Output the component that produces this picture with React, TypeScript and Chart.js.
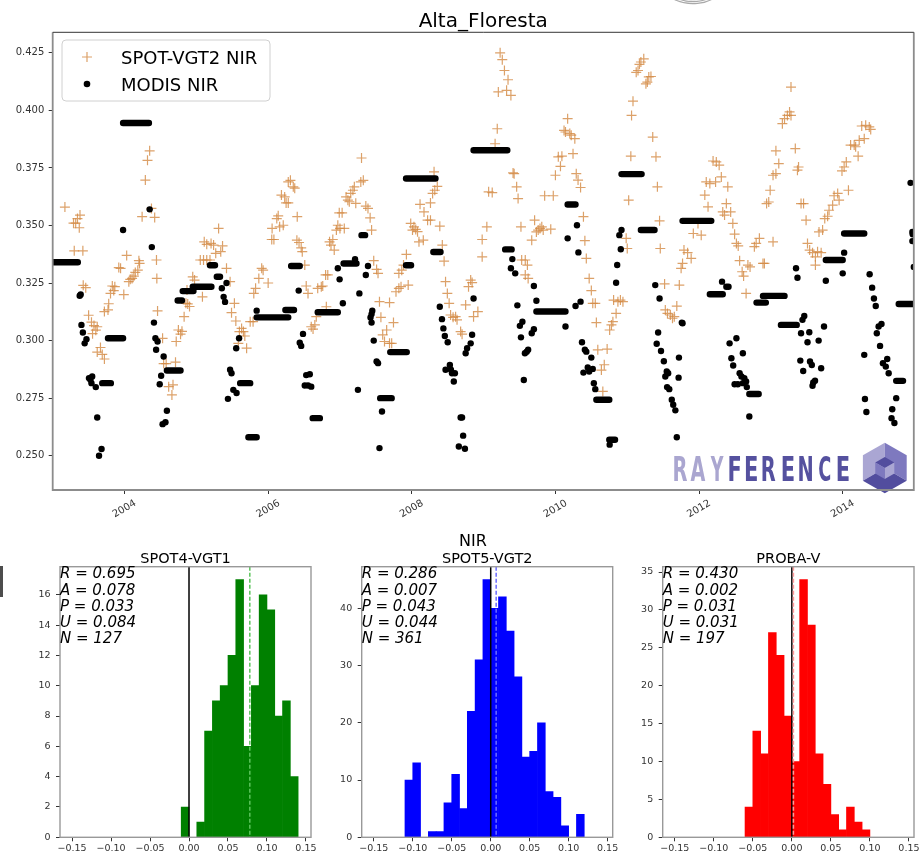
import React, { useEffect, useRef } from "react";
import { Chart, registerables } from "chart.js";

Chart.register(...registerables);

const FONT = '"DejaVu Sans", "Liberation Sans", sans-serif';
const LOGO_FONT = '"DejaVu Sans Condensed", "Liberation Sans Narrow", "DejaVu Sans", sans-serif';

// ---------------- time series: Alta_Floresta NIR ----------------
const YEAR_MIN = 2003.0;
const YEAR_MAX = 2014.99;
const NIR_MIN = 0.2351;
const NIR_MAX = 0.4339;
const YEAR_TICKS = [2004, 2006, 2008, 2010, 2012, 2014];
const NIR_TICKS = [0.25, 0.275, 0.3, 0.325, 0.35, 0.375, 0.4, 0.425];

// [decimal year, reflectance]
const SPOT_VGT2_NIR: [number, number][] = [
  [2003.17, 0.358], [2003.29, 0.351], [2003.32, 0.351], [2003.345, 0.353], [2003.38, 0.3545], [2003.37, 0.349],
  [2003.3, 0.339], [2003.42, 0.339], [2003.425, 0.324], [2003.46, 0.323], [2003.5, 0.311], [2003.54, 0.308],
  [2003.575, 0.3065], [2003.62, 0.306], [2003.555, 0.303], [2003.6, 0.3045], [2003.62, 0.295], [2003.665, 0.297],
  [2003.69, 0.294], [2003.72, 0.292], [2003.72, 0.3126], [2003.77, 0.3133], [2003.78, 0.316], [2003.805, 0.3205],
  [2003.83, 0.3237], [2003.865, 0.3234], [2003.85, 0.3217], [2003.92, 0.3317], [2003.945, 0.3314], [2003.99, 0.32],
  [2004.03, 0.337], [2004.06, 0.3256], [2004.08, 0.3266], [2004.105, 0.327], [2004.13, 0.328], [2004.15, 0.3296],
  [2004.185, 0.3306], [2004.21, 0.3335], [2004.2, 0.3347], [2004.245, 0.3538], [2004.42, 0.3535], [2004.29, 0.3697],
  [2004.32, 0.3783], [2004.35, 0.3824], [2004.375, 0.3574], [2004.445, 0.335], [2004.45, 0.327], [2004.46, 0.3129],
  [2004.53, 0.301], [2004.58, 0.29], [2004.545, 0.29], [2004.71, 0.2906], [2004.615, 0.28], [2004.66, 0.2764],
  [2004.675, 0.2808], [2004.72, 0.2996], [2004.75, 0.3046], [2004.78, 0.3028], [2004.8, 0.304], [2004.83, 0.3104],
  [2004.855, 0.3162], [2004.88, 0.3159], [2004.905, 0.3148], [2004.87, 0.322], [2004.95, 0.3277], [2004.975, 0.3263],
  [2005.085, 0.319], [2005.055, 0.335], [2005.1, 0.335], [2005.145, 0.335], [2005.19, 0.335], [2005.11, 0.3429],
  [2005.145, 0.3418], [2005.205, 0.3422], [2005.24, 0.3415], [2005.31, 0.3487], [2005.27, 0.3379], [2005.34, 0.3386],
  [2005.365, 0.3411], [2005.42, 0.3314], [2005.47, 0.3256], [2005.49, 0.3121], [2005.53, 0.3162], [2005.55, 0.3085],
  [2005.6, 0.3039], [2005.63, 0.3053], [2005.585, 0.2988], [2005.655, 0.3039], [2005.7, 0.2967], [2005.675, 0.302],
  [2005.75, 0.3082], [2005.79, 0.3082], [2005.8, 0.3205], [2005.825, 0.3227], [2005.87, 0.327], [2005.91, 0.3314],
  [2005.93, 0.3306], [2006.0, 0.325], [2006.05, 0.3439], [2006.08, 0.3439], [2006.055, 0.3487], [2006.16, 0.3494],
  [2006.21, 0.3501], [2006.14, 0.3542], [2006.12, 0.353], [2006.185, 0.3632], [2006.23, 0.3624], [2006.25, 0.3598],
  [2006.28, 0.3598], [2006.28, 0.3689], [2006.31, 0.3696], [2006.35, 0.3668], [2006.37, 0.3662], [2006.405, 0.3538],
  [2006.4, 0.3436], [2006.43, 0.3426], [2006.46, 0.3403], [2006.475, 0.3386], [2006.51, 0.3328], [2006.53, 0.3237],
  [2006.555, 0.3205], [2006.6, 0.306], [2006.65, 0.3068], [2006.625, 0.305], [2006.67, 0.3104], [2006.69, 0.3227],
  [2006.74, 0.3234], [2006.76, 0.3237], [2006.8, 0.3285], [2006.83, 0.3285], [2006.81, 0.3147], [2006.855, 0.3429],
  [2006.9, 0.3439], [2006.92, 0.3393], [2006.875, 0.3415], [2006.95, 0.348], [2006.97, 0.3501], [2007.0, 0.3487],
  [2006.99, 0.3555], [2007.03, 0.3555], [2007.085, 0.3624], [2007.11, 0.361], [2007.15, 0.3639], [2007.18, 0.3653],
  [2007.2, 0.3668], [2007.13, 0.3603], [2007.22, 0.3596], [2007.06, 0.3487], [2007.3, 0.3793], [2007.29, 0.3689],
  [2007.325, 0.3696], [2007.36, 0.3584], [2007.39, 0.3574], [2007.42, 0.3533], [2007.44, 0.348], [2007.47, 0.3347],
  [2007.51, 0.3309], [2007.53, 0.3292], [2007.55, 0.3169], [2007.69, 0.3165], [2007.57, 0.3101], [2007.595, 0.3025],
  [2007.65, 0.3046], [2007.62, 0.2996], [2007.69, 0.2988], [2007.72, 0.2988], [2007.745, 0.3078], [2007.78, 0.3212],
  [2007.82, 0.3227], [2007.85, 0.3234], [2007.82, 0.3292], [2007.86, 0.3306], [2007.885, 0.3328], [2007.925, 0.3374],
  [2007.95, 0.3241], [2007.985, 0.3509], [2008.03, 0.3494], [2008.055, 0.3483], [2008.08, 0.3473], [2008.01, 0.348],
  [2008.1, 0.3429], [2008.16, 0.3436], [2008.115, 0.3592], [2008.17, 0.3559], [2008.22, 0.3523], [2008.26, 0.3523],
  [2008.26, 0.3598], [2008.29, 0.3639], [2008.32, 0.3653], [2008.355, 0.367], [2008.31, 0.3733], [2008.39, 0.3497],
  [2008.425, 0.3415], [2008.45, 0.3345], [2008.47, 0.3256], [2008.495, 0.3205], [2008.52, 0.3162], [2008.54, 0.3111],
  [2008.575, 0.3101], [2008.61, 0.3104], [2008.63, 0.309], [2008.68, 0.3039], [2008.7, 0.3028], [2008.75, 0.3155],
  [2008.79, 0.3234], [2008.82, 0.3263], [2008.84, 0.3252], [2008.86, 0.3104], [2008.92, 0.3126], [2008.98, 0.3439],
  [2008.98, 0.3364], [2009.045, 0.3494], [2009.07, 0.3646], [2009.12, 0.3643], [2009.16, 0.3855], [2009.19, 0.392],
  [2009.205, 0.408], [2009.23, 0.425], [2009.26, 0.422], [2009.29, 0.4173], [2009.34, 0.4133], [2009.38, 0.4065],
  [2009.32, 0.4087], [2009.41, 0.3728], [2009.425, 0.3725], [2009.46, 0.3668], [2009.48, 0.3617], [2009.52, 0.3494],
  [2009.53, 0.335], [2009.58, 0.335], [2009.61, 0.3328], [2009.62, 0.327], [2009.58, 0.3285], [2009.67, 0.3436],
  [2009.71, 0.3523], [2009.76, 0.348], [2009.81, 0.3494], [2009.735, 0.3472], [2009.785, 0.3487], [2009.83, 0.348],
  [2009.935, 0.3484], [2009.85, 0.3629], [2009.97, 0.3629], [2010.0, 0.3718], [2010.04, 0.3798], [2010.07, 0.3757],
  [2010.09, 0.3801], [2010.14, 0.3906], [2010.17, 0.3964], [2010.2, 0.3899], [2010.22, 0.3892], [2010.27, 0.3877],
  [2010.12, 0.3913], [2010.245, 0.3812], [2010.29, 0.3725], [2010.315, 0.3697], [2010.35, 0.3665], [2010.39, 0.3538],
  [2010.41, 0.3434], [2010.43, 0.3357], [2010.47, 0.327], [2010.5, 0.3217], [2010.52, 0.3162], [2010.555, 0.3162],
  [2010.57, 0.3078], [2010.59, 0.296], [2010.72, 0.2963], [2010.64, 0.2872], [2010.68, 0.2895], [2010.66, 0.2779],
  [2010.755, 0.3046], [2010.78, 0.3068], [2010.8, 0.3082], [2010.81, 0.3176], [2010.845, 0.3118], [2010.87, 0.3169],
  [2010.905, 0.3176], [2010.94, 0.3169], [2010.985, 0.3444], [2011.0, 0.34], [2011.02, 0.361], [2011.05, 0.3801],
  [2011.06, 0.3978], [2011.08, 0.404], [2011.125, 0.4165], [2011.15, 0.4173], [2011.19, 0.421], [2011.23, 0.4224],
  [2011.17, 0.42], [2011.28, 0.4123], [2011.3, 0.4145], [2011.33, 0.4147], [2011.26, 0.4115], [2011.355, 0.3884],
  [2011.4, 0.3798], [2011.42, 0.3668], [2011.45, 0.352], [2011.46, 0.34], [2011.52, 0.3246], [2011.53, 0.3133],
  [2011.56, 0.3118], [2011.6, 0.3111], [2011.655, 0.3104], [2011.63, 0.3097], [2011.69, 0.315], [2011.725, 0.3241],
  [2011.75, 0.3314], [2011.77, 0.3335], [2011.79, 0.3393], [2011.84, 0.3382], [2011.89, 0.3357], [2011.92, 0.3465],
  [2011.985, 0.3509], [2012.03, 0.3458], [2012.08, 0.3632], [2012.1, 0.3689], [2012.15, 0.3682], [2012.125, 0.3581],
  [2012.195, 0.378], [2012.24, 0.3776], [2012.28, 0.3762], [2012.23, 0.3689], [2012.31, 0.3711], [2012.33, 0.3559],
  [2012.38, 0.3595], [2012.355, 0.3545], [2012.4, 0.3668], [2012.44, 0.3559], [2012.47, 0.3509], [2012.495, 0.3462],
  [2012.52, 0.3422], [2012.545, 0.3411], [2012.565, 0.3347], [2012.6, 0.3299], [2012.62, 0.328], [2012.655, 0.3205],
  [2012.68, 0.3328], [2012.71, 0.332], [2012.77, 0.3408], [2012.795, 0.3422], [2012.84, 0.3444], [2012.89, 0.3335],
  [2012.91, 0.3335], [2013.03, 0.3429], [2012.94, 0.3595], [2012.97, 0.3602], [2012.99, 0.3653], [2013.03, 0.3718],
  [2013.07, 0.3725], [2013.11, 0.3769], [2013.07, 0.3824], [2013.16, 0.3942], [2013.19, 0.3964], [2013.23, 0.3978],
  [2013.26, 0.3993], [2013.28, 0.3978], [2013.28, 0.4101], [2013.34, 0.3834], [2013.385, 0.3754], [2013.37, 0.374],
  [2013.42, 0.3595], [2013.455, 0.3595], [2013.49, 0.3523], [2013.51, 0.3422], [2013.54, 0.3393], [2013.58, 0.3382],
  [2013.62, 0.3364], [2013.65, 0.3386], [2013.7, 0.3382], [2013.62, 0.3328], [2013.67, 0.3472], [2013.72, 0.348],
  [2013.75, 0.353], [2013.79, 0.354], [2013.81, 0.3566], [2013.86, 0.3588], [2013.88, 0.3629], [2013.93, 0.3639],
  [2013.95, 0.361], [2013.99, 0.3737], [2014.02, 0.3754], [2014.05, 0.3776], [2014.08, 0.3653], [2014.11, 0.3849],
  [2014.16, 0.3849], [2014.18, 0.3842], [2014.215, 0.3801], [2014.23, 0.387], [2014.265, 0.3932], [2014.32, 0.3935],
  [2014.37, 0.3928], [2014.39, 0.3917], [2014.3, 0.3877],
];

// single MODIS retrievals [decimal year, reflectance]
const MODIS_NIR: [number, number][] = [
  [2003.376, 0.3195], [2003.39, 0.32], [2003.4, 0.3068], [2003.42, 0.3035], [2003.445, 0.2988], [2003.47, 0.3006],
  [2003.505, 0.2837], [2003.55, 0.2844], [2003.54, 0.2815], [2003.6, 0.2798], [2003.525, 0.283], [2003.62, 0.2666],
  [2003.645, 0.25], [2003.68, 0.2529], [2003.98, 0.348], [2004.35, 0.357], [2004.38, 0.3406], [2004.41, 0.3078],
  [2004.43, 0.301], [2004.46, 0.2996], [2004.44, 0.296], [2004.545, 0.2931], [2004.51, 0.2847], [2004.49, 0.281],
  [2004.59, 0.2695], [2004.53, 0.2637], [2004.57, 0.2645], [2005.355, 0.3227], [2005.38, 0.319], [2005.4, 0.3168],
  [2005.42, 0.325], [2005.595, 0.301], [2005.555, 0.2967], [2005.47, 0.2873], [2005.49, 0.2858], [2005.515, 0.2786],
  [2005.56, 0.2772], [2005.44, 0.2747], [2005.84, 0.313], [2006.425, 0.3217], [2006.485, 0.3029], [2006.44, 0.2991],
  [2006.46, 0.2977], [2006.53, 0.285], [2006.58, 0.2854], [2006.51, 0.2805], [2006.6, 0.28], [2006.555, 0.2805],
  [2006.97, 0.3314], [2006.995, 0.3266], [2007.04, 0.3162], [2007.21, 0.3353], [2007.27, 0.3205], [2007.25, 0.2786],
  [2007.36, 0.3285], [2007.39, 0.3324], [2007.44, 0.3115], [2007.425, 0.31], [2007.45, 0.313], [2007.44, 0.3078],
  [2007.47, 0.3], [2007.51, 0.2909], [2007.53, 0.2902], [2007.585, 0.2692], [2007.55, 0.2533], [2008.39, 0.3147],
  [2008.42, 0.3093], [2008.44, 0.3053], [2008.46, 0.302], [2008.5, 0.2993], [2008.47, 0.2873], [2008.53, 0.2894],
  [2008.56, 0.2858], [2008.585, 0.2822], [2008.6, 0.2858], [2008.545, 0.2873], [2008.68, 0.2666], [2008.7, 0.2666],
  [2008.715, 0.2587], [2008.655, 0.254], [2008.74, 0.253], [2008.75, 0.2945], [2008.77, 0.2967], [2008.82, 0.2988],
  [2008.84, 0.3025], [2008.86, 0.3183], [2009.4, 0.3354], [2009.38, 0.3314], [2009.44, 0.3292], [2009.47, 0.3153],
  [2009.505, 0.3064], [2009.54, 0.3082], [2009.52, 0.3014], [2009.575, 0.2945], [2009.62, 0.296], [2009.6, 0.2952],
  [2009.56, 0.2829], [2009.67, 0.3032], [2009.7, 0.3049], [2009.7, 0.3237], [2009.735, 0.3173], [2010.14, 0.3061],
  [2010.17, 0.3444], [2010.3, 0.3501], [2010.32, 0.3383], [2010.28, 0.315], [2010.35, 0.3169], [2010.37, 0.2993],
  [2010.41, 0.296], [2010.43, 0.2952], [2010.5, 0.2926], [2010.45, 0.2883], [2010.52, 0.2877], [2010.47, 0.2866],
  [2010.39, 0.2861], [2010.535, 0.2815], [2010.555, 0.2789], [2010.755, 0.2548], [2010.845, 0.3251], [2010.86, 0.3328],
  [2010.91, 0.3397], [2010.89, 0.3458], [2010.92, 0.348], [2011.39, 0.3241], [2011.45, 0.3183], [2011.43, 0.3035],
  [2011.41, 0.2986], [2011.47, 0.2955], [2011.51, 0.291], [2011.57, 0.2858], [2011.53, 0.2844], [2011.55, 0.2866],
  [2011.555, 0.2798], [2011.585, 0.2789], [2011.62, 0.2743], [2011.64, 0.2721], [2011.67, 0.2697], [2011.69, 0.258],
  [2011.72, 0.2926], [2011.715, 0.2839], [2011.77, 0.3075], [2011.76, 0.3078], [2012.32, 0.3256], [2012.38, 0.3234],
  [2012.41, 0.3234], [2012.425, 0.2988], [2012.52, 0.301], [2012.45, 0.2923], [2012.475, 0.2892], [2012.61, 0.2945],
  [2012.565, 0.2858], [2012.59, 0.2844], [2012.63, 0.2837], [2012.655, 0.2822], [2012.495, 0.281], [2012.54, 0.281],
  [2012.61, 0.2815], [2012.665, 0.2798], [2012.7, 0.267], [2013.35, 0.3314], [2013.37, 0.3273], [2013.465, 0.3107],
  [2013.44, 0.309], [2013.42, 0.3032], [2013.535, 0.3036], [2013.51, 0.2993], [2013.665, 0.3], [2013.74, 0.3061],
  [2013.41, 0.2913], [2013.45, 0.2868], [2013.545, 0.2909], [2013.57, 0.2894], [2013.7, 0.288], [2013.59, 0.2818],
  [2013.615, 0.2826], [2013.58, 0.2804], [2013.765, 0.326], [2014.02, 0.3382], [2014.0, 0.3292], [2014.375, 0.3288],
  [2014.41, 0.323], [2014.435, 0.3183], [2014.46, 0.315], [2014.5, 0.3061], [2014.54, 0.3072], [2014.475, 0.3032],
  [2014.52, 0.2977], [2014.3, 0.2938], [2014.56, 0.2902], [2014.62, 0.292], [2014.64, 0.2858], [2014.6, 0.2887],
  [2014.31, 0.2746], [2014.33, 0.269], [2014.745, 0.275], [2014.69, 0.2702], [2014.68, 0.2663], [2014.72, 0.2642],
  [2014.945, 0.3685], [2014.97, 0.3472], [2014.975, 0.3462], [2014.97, 0.3432], [2014.99, 0.332],
];

// constant MODIS periods [start year, end year, reflectance]
const MODIS_NIR_FLAT: [number, number, number][] = [
  [2003.0, 2003.35, 0.334], [2003.69, 2003.81, 0.2815], [2003.77, 2003.98, 0.301], [2003.98, 2004.34, 0.3945],
  [2004.59, 2004.78, 0.287], [2004.74, 2004.8, 0.3174], [2004.81, 2004.96, 0.3215], [2004.95, 2005.21, 0.3234],
  [2005.19, 2005.26, 0.3327], [2005.285, 2005.33, 0.3277], [2005.61, 2005.75, 0.2815], [2005.725, 2005.84, 0.258],
  [2005.84, 2006.28, 0.3101], [2006.24, 2006.36, 0.3133], [2006.32, 2006.44, 0.3324], [2006.62, 2006.72, 0.2663],
  [2006.69, 2006.97, 0.3123], [2007.05, 2007.23, 0.3335], [2007.3, 2007.35, 0.3458], [2007.56, 2007.72, 0.275],
  [2007.7, 2007.93, 0.295], [2007.92, 2007.99, 0.3327], [2007.92, 2008.33, 0.3704], [2008.3, 2008.4, 0.3385],
  [2008.86, 2009.33, 0.3827], [2009.3, 2009.39, 0.3396], [2009.735, 2010.14, 0.3126], [2010.17, 2010.28, 0.3591],
  [2010.57, 2010.75, 0.2743], [2010.75, 2010.83, 0.2569], [2010.92, 2011.2, 0.3723], [2011.19, 2011.38, 0.348],
  [2011.77, 2012.17, 0.352], [2012.15, 2012.33, 0.3201], [2012.7, 2012.83, 0.2768], [2012.8, 2012.93, 0.3165],
  [2012.89, 2013.19, 0.3194], [2013.14, 2013.36, 0.3068], [2013.765, 2014.0, 0.335], [2014.02, 2014.3, 0.3465],
  [2014.745, 2014.84, 0.2825], [2014.78, 2014.97, 0.3159],
];

// ---------------- NIR difference histograms ----------------
const DIFF_MIN = -0.1655;
const DIFF_MAX = 0.1565;
const DIFF_TICKS = [-0.15, -0.1, -0.05, 0, 0.05, 0.1, 0.15];
const STAT_NAMES = ["R", "A", "P", "U", "N"];

const VGT1_BINS = [-0.005, 0.005, 0.015, 0.025, 0.035, 0.045, 0.055, 0.065, 0.075, 0.085, 0.095, 0.105, 0.115, 0.125, 0.135];
const VGT1_COUNTS = [2, 0, 1, 7, 9, 10, 12, 17, 6, 10, 16, 15, 8, 9, 4];
const VGT1_STATS = [0.695, 0.078, 0.033, 0.084, 127];
const VGT1_YTICKS = [0, 2, 4, 6, 8, 10, 12, 14, 16];

const VGT2_BINS = [-0.105, -0.095, -0.085, -0.075, -0.065, -0.055, -0.045, -0.035, -0.025, -0.015, -0.005, 0.005,
  0.015, 0.025, 0.035, 0.045, 0.055, 0.065, 0.075, 0.085, 0.095, 0.105, 0.115];
const VGT2_COUNTS = [10, 13, 0, 1, 1, 6, 11, 5, 22, 31, 45, 40, 42, 36, 28, 14, 15, 20, 8, 7, 2, 0, 4];
const VGT2_STATS = [0.286, 0.007, 0.043, 0.044, 361];
const VGT2_YTICKS = [0, 10, 20, 30, 40];

const PROBAV_BINS = [-0.055, -0.045, -0.035, -0.025, -0.015, -0.005, 0.005, 0.015, 0.025, 0.035, 0.045, 0.055,
  0.065, 0.075, 0.085, 0.095];
const PROBAV_COUNTS = [4, 14, 11, 27, 24, 16, 10, 34, 28, 11, 7, 3, 1, 4, 2, 1];
const PROBAV_STATS = [0.43, 0.002, 0.031, 0.031, 197];
const PROBAV_YTICKS = [0, 5, 10, 15, 20, 25, 30, 35];

const SPOT_COLOR = "rgba(211,137,68,0.8)";

function fixAxis(size: number) {
  return (s: any) => {
    if (s.isHorizontal()) s.height = size;
    else s.width = size;
    s.paddingLeft = 0;
    s.paddingRight = 0;
    s.paddingTop = 0;
    s.paddingBottom = 0;
  };
}

function drawLogo(ctx: CanvasRenderingContext2D, a: any) {
  const word = "RAYFERENCE";
  const lefts = [-240, -223.4, -203.7, -185, -168.4, -151.7, -131.7, -115, -95, -76.7];
  const widths = [13.3, 15, 13.7, 11.6, 11.7, 13.3, 11.7, 13.3, 11.6, 11.7];
  const base = a.bottom - 9.5;
  ctx.save();
  ctx.font = `bold 34px ${LOGO_FONT}`;
  ctx.textAlign = "left";
  ctx.textBaseline = "alphabetic";
  for (let i = 0; i < word.length; i++) {
    const ch = word[i];
    const m = ctx.measureText(ch);
    const w = m.actualBoundingBoxLeft + m.actualBoundingBoxRight;
    ctx.save();
    ctx.translate(a.right + lefts[i], base);
    ctx.scale(widths[i] / w, 1);
    ctx.fillStyle = i < 3 ? "#aaa6d0" : "#55519f";
    ctx.fillText(ch, m.actualBoundingBoxLeft, 0);
    ctx.restore();
  }
  // isometric cube badge
  const cx = a.right - 29;
  const cy = a.bottom - 22;
  const hex = (r: number) => {
    const pts: [number, number][] = [];
    for (let k = 0; k < 6; k++) {
      const ang = -Math.PI / 2 + (k * Math.PI) / 3;
      pts.push([cx + r * Math.cos(ang), cy + r * Math.sin(ang)]);
    }
    return pts; // T, UR, LR, B, LL, UL
  };
  const poly = (pts: [number, number][], color: string) => {
    ctx.beginPath();
    ctx.moveTo(pts[0][0], pts[0][1]);
    for (let k = 1; k < pts.length; k++) ctx.lineTo(pts[k][0], pts[k][1]);
    ctx.closePath();
    ctx.fillStyle = color;
    ctx.fill();
  };
  const light = "#aaa6d3";
  const mid = "#7e79bf";
  const dark = "#524d9e";
  const C: [number, number] = [cx, cy];
  const o = hex(25.3);
  poly([o[4], o[5], o[0], C], light);
  poly([o[0], o[1], o[2], C], mid);
  poly([o[2], o[3], o[4], C], dark);
  const n = hex(11);
  poly([n[5], n[0], n[1], C], dark);
  poly([n[3], n[4], n[5], C], mid);
  poly([n[1], n[2], n[3], C], light);
  ctx.restore();
}

const seriesDecor = {
  id: "seriesDecor",
  beforeDatasetsDraw(chart: any) {
    drawLogo(chart.ctx, chart.chartArea);
  },
  afterDraw(chart: any) {
    const { ctx, chartArea: a, scales } = chart;
    ctx.save();
    // frame
    ctx.strokeStyle = "#8c8c8c";
    ctx.lineWidth = 1.8;
    ctx.beginPath();
    ctx.moveTo(a.left, a.top);
    ctx.lineTo(a.left, a.bottom);
    ctx.lineTo(a.right, a.bottom);
    ctx.lineTo(a.right, a.top);
    ctx.stroke();
    ctx.strokeStyle = "#333";
    ctx.lineWidth = 1;
    ctx.beginPath();
    ctx.moveTo(a.left, a.top);
    ctx.lineTo(a.right, a.top);
    ctx.stroke();

    // title
    ctx.fillStyle = "#000";
    ctx.font = `20px ${FONT}`;
    ctx.textAlign = "center";
    ctx.textBaseline = "alphabetic";
    ctx.fillText("Alta_Floresta", (a.left + a.right) / 2, a.top - 5.3);

    // rotated year labels
    ctx.font = `10px ${FONT}`;
    ctx.fillStyle = "#333";
    ctx.textBaseline = "middle";
    for (const yr of YEAR_TICKS) {
      const x = scales.x.getPixelForValue(yr);
      ctx.save();
      ctx.translate(x, a.bottom + 19);
      ctx.rotate(-Math.PI / 6);
      ctx.fillText(String(yr), 0, 0);
      ctx.restore();
    }

    // legend
    const lx = a.left + 9.3;
    const ly = a.top + 7.7;
    ctx.beginPath();
    ctx.roundRect(lx, ly, 208, 61, 4);
    ctx.fillStyle = "rgba(255,255,255,0.85)";
    ctx.fill();
    ctx.strokeStyle = "#d0d0d0";
    ctx.lineWidth = 1;
    ctx.stroke();
    const mx = lx + 25;
    ctx.strokeStyle = SPOT_COLOR;
    ctx.lineWidth = 1.2;
    ctx.beginPath();
    ctx.moveTo(mx - 5, ly + 17);
    ctx.lineTo(mx + 5, ly + 17);
    ctx.moveTo(mx, ly + 12);
    ctx.lineTo(mx, ly + 22);
    ctx.stroke();
    ctx.fillStyle = "#000";
    ctx.beginPath();
    ctx.arc(mx, ly + 44, 3.3, 0, Math.PI * 2);
    ctx.fill();
    ctx.font = `18px ${FONT}`;
    ctx.textAlign = "left";
    ctx.textBaseline = "alphabetic";
    ctx.fillText("SPOT-VGT2 NIR", lx + 59, ly + 24);
    ctx.fillText("MODIS NIR", lx + 59, ly + 50.5);

    // faint mark at the upper edge of the page
    ctx.strokeStyle = "rgba(140,140,140,0.75)";
    ctx.lineWidth = 1.2;
    for (const r of [20, 23, 26]) {
      ctx.beginPath();
      ctx.ellipse(693, -14, r * 1.1, r * 0.68, 0, 0.2 * Math.PI, 0.8 * Math.PI);
      ctx.stroke();
    }
    ctx.restore();
  },
};

function TimeSeries() {
  const ref = useRef<HTMLCanvasElement>(null);
  useEffect(() => {
    const canvas = ref.current;
    if (!canvas) return;
    const flat = MODIS_NIR_FLAT.flatMap(([a, b, v]) => [
      { x: a, y: v },
      { x: b, y: v },
      { x: b, y: null },
    ]);
    const chart = new Chart(canvas, {
      type: "scatter",
      data: {
        datasets: [
          {
            label: "MODIS NIR",
            data: MODIS_NIR.map(([x, y]) => ({ x, y })),
            pointStyle: "circle",
            pointRadius: 3.2,
            backgroundColor: "#000",
            borderWidth: 0,
            order: 0,
          },
          {
            type: "line",
            label: "MODIS NIR (constant periods)",
            data: flat,
            pointRadius: 0,
            borderColor: "#000",
            borderWidth: 6.4,
            borderCapStyle: "round",
            spanGaps: false,
            fill: false,
            order: 1,
          },
          {
            label: "SPOT-VGT2 NIR",
            data: SPOT_VGT2_NIR.map(([x, y]) => ({ x, y })),
            pointStyle: "cross",
            pointRadius: 5,
            borderColor: SPOT_COLOR,
            backgroundColor: SPOT_COLOR,
            borderWidth: 1.2,
            order: 2,
          },
        ] as any,
      },
      options: {
        animation: false,
        responsive: false,
        events: [],
        layout: { padding: { left: 0, top: 32.3, right: 3.3, bottom: 0 } },
        plugins: { legend: { display: false }, tooltip: { enabled: false } },
        scales: {
          x: {
            type: "linear",
            min: YEAR_MIN,
            max: YEAR_MAX,
            afterBuildTicks: (s: any) => {
              s.ticks = YEAR_TICKS.map((value) => ({ value }));
            },
            afterFit: fixAxis(35),
            ticks: { display: false },
            grid: { display: true, drawOnChartArea: false, drawTicks: true, tickLength: 4, color: "#333", lineWidth: 1 },
            border: { display: false },
          },
          y: {
            type: "linear",
            min: NIR_MIN,
            max: NIR_MAX,
            afterBuildTicks: (s: any) => {
              s.ticks = NIR_TICKS.map((value) => ({ value }));
            },
            afterFit: fixAxis(52.7),
            ticks: {
              font: { family: FONT, size: 10 },
              color: "#333",
              padding: 4.4,
              callback: (v: any) => Number(v).toFixed(3),
            },
            grid: { display: true, drawOnChartArea: false, drawTicks: true, tickLength: 4, color: "#333", lineWidth: 1 },
            border: { display: false },
          },
        },
      } as any,
      plugins: [seriesDecor],
    });
    return () => chart.destroy();
  }, []);
  return (
    <canvas
      ref={ref}
      width={920}
      height={525}
      style={{ position: "absolute", left: 0, top: 0, width: 920, height: 525 }}
    />
  );
}

type HistProps = {
  left: number;
  width: number;
  plotLeft: number;
  plotRight: number;
  bins: number[];
  counts: number[];
  color: string;
  meanColor: string;
  yMax: number;
  yTicks: number[];
  title: string;
  stats: number[];
  suptitle?: { text: string; x: number };
};

const HIST_TOP = 525;
const HIST_HEIGHT = 329;
const PLOT_TOP = 566.7;
const PLOT_BOTTOM = 837.3;

function fmtDiff(v: number) {
  const s = Math.abs(v).toFixed(2);
  return v < -1e-9 ? "\u2212" + s : s;
}

function Histogram(p: HistProps) {
  const ref = useRef<HTMLCanvasElement>(null);
  useEffect(() => {
    const canvas = ref.current;
    if (!canvas) return;
    const yAxisW = 40;
    const decor = {
      id: "histDecor",
      afterDatasetsDraw(chart: any) {
        const { ctx, chartArea: a, scales } = chart;
        ctx.save();
        // zero reference
        const x0 = scales.x.getPixelForValue(0);
        ctx.strokeStyle = "#000";
        ctx.lineWidth = 1.5;
        ctx.beginPath();
        ctx.moveTo(x0, a.top);
        ctx.lineTo(x0, a.bottom);
        ctx.stroke();
        // mean difference (A)
        const xm = scales.x.getPixelForValue(p.stats[1]);
        ctx.strokeStyle = p.meanColor;
        ctx.setLineDash([4, 2]);
        ctx.beginPath();
        ctx.moveTo(xm, a.top);
        ctx.lineTo(xm, a.bottom);
        ctx.stroke();
        ctx.setLineDash([]);
        // frame
        ctx.strokeStyle = "#999";
        ctx.lineWidth = 1.4;
        ctx.strokeRect(a.left, a.top, a.right - a.left, a.bottom - a.top);
        // statistics block
        ctx.fillStyle = "#000";
        ctx.font = `italic 15px ${FONT}`;
        ctx.textAlign = "left";
        ctx.textBaseline = "alphabetic";
        p.stats.forEach((v, i) => {
          const txt = `${STAT_NAMES[i]} = ${i === 4 ? String(v) : v.toFixed(3)}`;
          ctx.fillText(txt, a.left, a.top + 11.6 + i * 16.25);
        });
        // subplot title
        ctx.font = `14.5px ${FONT}`;
        ctx.textAlign = "center";
        ctx.fillText(p.title, (a.left + a.right) / 2, a.top - 3.7);
        if (p.suptitle) {
          ctx.font = `16px ${FONT}`;
          ctx.fillText(p.suptitle.text, p.suptitle.x - p.left, 546 - HIST_TOP);
        }
        ctx.restore();
      },
    };
    const chart = new Chart(canvas, {
      type: "bar",
      data: {
        datasets: [
          {
            data: p.bins.map((b, i) => ({ x: b, y: p.counts[i] })),
            backgroundColor: p.color,
            borderWidth: 0,
            barPercentage: 1,
            categoryPercentage: 1,
          },
        ] as any,
      },
      options: {
        animation: false,
        responsive: false,
        events: [],
        layout: {
          padding: {
            left: p.plotLeft - p.left - yAxisW,
            right: p.left + p.width - p.plotRight,
            top: PLOT_TOP - HIST_TOP,
            bottom: 0,
          },
        },
        plugins: { legend: { display: false }, tooltip: { enabled: false } },
        scales: {
          x: {
            type: "linear",
            min: DIFF_MIN,
            max: DIFF_MAX,
            offset: false,
            afterBuildTicks: (s: any) => {
              s.ticks = DIFF_TICKS.map((value) => ({ value }));
            },
            afterFit: fixAxis(HIST_TOP + HIST_HEIGHT - PLOT_BOTTOM),
            ticks: {
              font: { family: FONT, size: 9.5 },
              color: "#333",
              padding: 1.5,
              maxRotation: 0,
              autoSkip: false,
              callback: (v: any) => fmtDiff(Number(v)),
            },
            grid: { display: true, offset: false, drawOnChartArea: false, drawTicks: true, tickLength: 4, color: "#333" },
            border: { display: false },
          },
          y: {
            type: "linear",
            min: 0,
            max: p.yMax,
            afterBuildTicks: (s: any) => {
              s.ticks = p.yTicks.map((value) => ({ value }));
            },
            afterFit: fixAxis(yAxisW),
            ticks: { font: { family: FONT, size: 9.5 }, color: "#333", padding: 5.5 },
            grid: { display: true, drawOnChartArea: false, drawTicks: true, tickLength: 4, color: "#333" },
            border: { display: false },
          },
        },
      } as any,
      plugins: [decor],
    });
    return () => chart.destroy();
  }, []);
  return (
    <canvas
      ref={ref}
      width={p.width}
      height={HIST_HEIGHT}
      style={{ position: "absolute", left: p.left, top: HIST_TOP, width: p.width, height: HIST_HEIGHT }}
    />
  );
}

export default function App() {
  return (
    <div
      style={{
        position: "absolute",
        left: 0,
        top: 0,
        width: 920,
        height: 854,
        background: "#fff",
        overflow: "hidden",
      }}
    >
      <TimeSeries />
      <Histogram
        left={0}
        width={320}
        plotLeft={60}
        plotRight={311}
        bins={VGT1_BINS}
        counts={VGT1_COUNTS}
        color="#008000"
        meanColor="#5cc45c"
        yMax={17 * 1.05}
        yTicks={VGT1_YTICKS}
        title="SPOT4-VGT1"
        stats={VGT1_STATS}
      />
      <Histogram
        left={320}
        width={300}
        plotLeft={361.7}
        plotRight={612.7}
        bins={VGT2_BINS}
        counts={VGT2_COUNTS}
        color="#0000ff"
        meanColor="#6b6bff"
        yMax={45 * 1.05}
        yTicks={VGT2_YTICKS}
        title="SPOT5-VGT2"
        stats={VGT2_STATS}
        suptitle={{ text: "NIR", x: 473 }}
      />
      <Histogram
        left={620}
        width={300}
        plotLeft={662.7}
        plotRight={914}
        bins={PROBAV_BINS}
        counts={PROBAV_COUNTS}
        color="#ff0000"
        meanColor="#ff9a9a"
        yMax={34 * 1.05}
        yTicks={PROBAV_YTICKS}
        title="PROBA-V"
        stats={PROBAV_STATS}
      />
      <div style={{ position: "absolute", left: 0, top: 566, width: 3, height: 31, background: "#4d4d4d" }} />
    </div>
  );
}
